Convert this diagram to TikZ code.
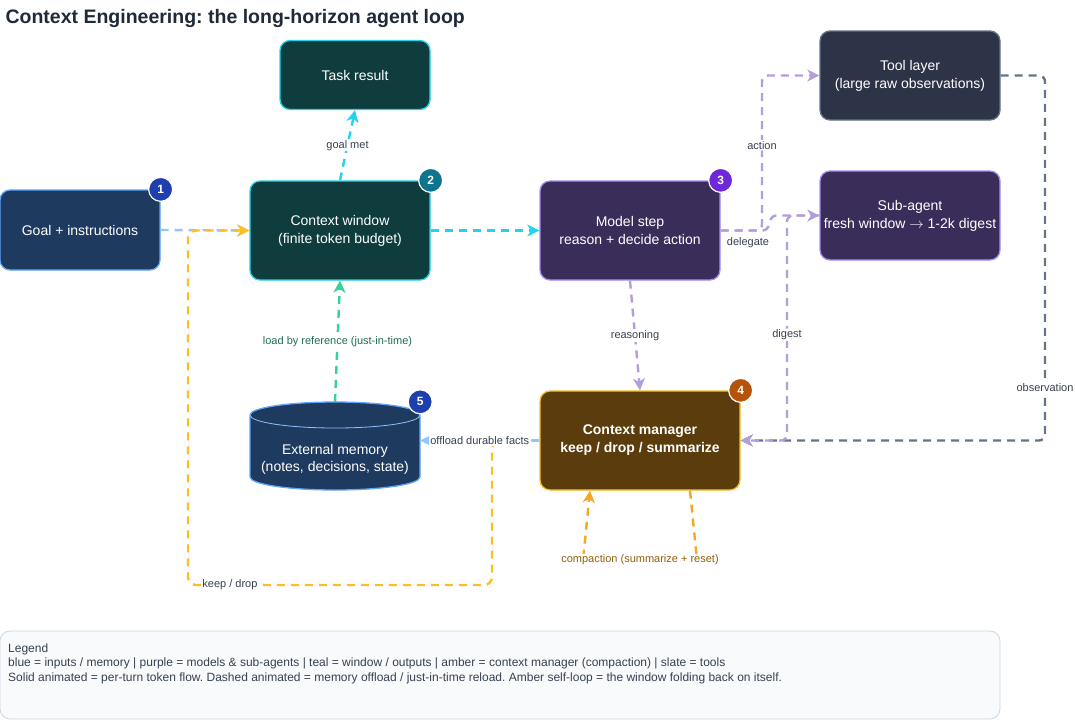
\documentclass[tikz,border=0pt]{standalone}
\usepackage{fontspec}
\setmainfont{Liberation Sans}
\usetikzlibrary{arrows.meta,calc}
\frenchspacing

\definecolor{titlegray}{HTML}{1F2937}
\definecolor{labgray}{HTML}{374151}
\definecolor{bluefill}{HTML}{1E3A5F}
\definecolor{blueline}{HTML}{60A5FA}
\definecolor{blueedge}{HTML}{93C5FD}
\definecolor{badgeblue}{HTML}{1E40AF}
\definecolor{tealfill}{HTML}{0F3D3E}
\definecolor{tealline}{HTML}{22D3EE}
\definecolor{badgeteal}{HTML}{0E7490}
\definecolor{purpfill}{HTML}{3B2D5A}
\definecolor{purpline}{HTML}{A78BFA}
\definecolor{purpedge}{HTML}{B39DDB}
\definecolor{badgepurp}{HTML}{6D28D9}
\definecolor{slatefill}{HTML}{2E3448}
\definecolor{slateline}{HTML}{64748B}
\definecolor{ambfill}{HTML}{5B3D0D}
\definecolor{ambline}{HTML}{FBBF24}
\definecolor{ambdark}{HTML}{F5A623}
\definecolor{badgeamb}{HTML}{B45309}
\definecolor{greenedge}{HTML}{34D399}
\definecolor{greentext}{HTML}{1F6F50}
\definecolor{ambtext}{HTML}{92600A}
\definecolor{legfill}{HTML}{F8FAFC}
\definecolor{legline}{HTML}{CBD5E1}

\begin{document}
\begin{tikzpicture}[x=1pt,y=-1pt,
  box/.style={draw,rounded corners=10pt,line width=1.3pt,text=white,align=center,
    font=\fontsize{14}{18}\selectfont,inner sep=0pt},
  badge/.style={circle,draw=white,line width=1.2pt,text=white,minimum size=24pt,
    inner sep=0pt,font=\fontsize{12}{12}\selectfont\bfseries},
  flow/.style={line width=2.4pt,dash pattern=on 8pt off 6pt,
    -{Stealth[length=12pt,width=12pt,inset=3.5pt]}},
  lbl/.style={fill=white,inner sep=1pt,text=labgray,font=\fontsize{11}{13}\selectfont}]
\useasboundingbox (0,0) rectangle (1075,721);

\node[anchor=west,text=titlegray,font=\fontsize{19.5}{22}\selectfont\bfseries] (title)
  at (2,18) {Context Engineering: the long-horizon agent loop};

% boxes
\node[box,fill=bluefill,draw=blueline,minimum width=160pt,minimum height=80pt] (goal)
  at (80,230) {Goal + instructions};
\node[box,fill=tealfill,draw=tealline,minimum width=180pt,minimum height=99pt] (window)
  at (340,230.5) {Context window\\(finite token budget)};
\node[box,fill=tealfill,draw=tealline,minimum width=150pt,minimum height=69pt] (result)
  at (355,75) {Task result};
\node[box,fill=purpfill,draw=purpline,minimum width=180pt,minimum height=99pt] (model)
  at (630,230.5) {Model step\\reason + decide action};
\node[box,fill=slatefill,draw=slateline,minimum width=180pt,minimum height=89pt] (tool)
  at (910,75.5) {Tool layer\\(large raw observations)};
\node[box,fill=purpfill,draw=purpline,minimum width=180pt,minimum height=89pt] (sub)
  at (910,215.5) {Sub-agent\\fresh window $\rightarrow$ 1-2k digest};
\node[box,fill=ambfill,draw=ambline,minimum width=200pt,minimum height=99pt,
  font=\fontsize{14}{18}\selectfont\bfseries] (manager)
  at (640,440.5) {Context manager\\keep / drop / summarize};

% cylinder
\path[draw=blueline,fill=bluefill,line width=1.3pt] (250,415) -- (250,477)
  arc[start angle=180,end angle=360,x radius=85pt,y radius=13pt] -- (420,415)
  arc[start angle=0,end angle=180,x radius=85pt,y radius=13pt] -- cycle;
\draw[blueline!70!white,line width=0.8pt] (250,415)
  arc[start angle=180,end angle=360,x radius=85pt,y radius=13pt];
\node[minimum width=170pt,minimum height=88pt,inner sep=0pt] (memory) at (335,446) {};
\node[text=white,align=center,font=\fontsize{14}{17}\selectfont] (memtext)
  at (335,459) {External memory\\(notes, decisions, state)};

% badges
\node[badge,fill=badgeblue] (b1) at (goal.north east) {1};
\node[badge,fill=badgeteal] (b2) at (window.north east) {2};
\node[badge,fill=badgepurp] (b3) at (model.north east) {3};
\node[badge,fill=badgeamb] (b4) at (manager.north east) {4};
\node[badge,fill=badgeblue] (b5) at (memory.north east) {5};

% flows
\draw[flow,blueedge] (goal.east) -- (window.west);
\draw[flow,ambline,rounded corners=8pt] (manager.west) -- (492,440.5) -- (492,585)
  -- node[lbl,pos=0.862] (keeplbl) {keep / drop} (188,585) -- (188,230.5) -- (window.west);
\draw[flow,tealline] (window.east) -- (model.west);
\draw[flow,tealline] (window.north) -- node[lbl] (metlbl) {goal met} (result.south);
\draw[flow,greenedge] (memory.north) -- node[lbl,text=greentext] (loadlbl)
  {load by reference (just-in-time)} (window.south);
\draw[flow,purpedge] (model.south) -- node[lbl] (reaslbl) {reasoning} (manager.north);
\draw[flow,purpedge,rounded corners=6pt] (model.east) -- (762,230.5)
  -- node[lbl,pos=0.55] (actlbl) {action} (762,75.5) -- (tool.west);
\draw[flow,purpedge,rounded corners=4pt] (model.east) -- (767,230.5) -- (772,215.5)
  -- (sub.west);
\node[lbl] (dellbl) at (748,243) {delegate};
\draw[flow,slateline,rounded corners=6pt] (tool.east) -- (1045,75.5)
  -- node[lbl,pos=0.856] (obslbl) {observation} (1045,440.5) -- (manager.east);
\draw[flow,purpedge,rounded corners=6pt] (sub.west) -- (787,215.5)
  -- node[lbl,pos=0.53] (diglbl) {digest} (787,440.5) -- (manager.east);
\draw[flow,blueedge] (manager.west) -- node[lbl] (offlbl) {offload durable facts}
  (manager.west -| memory.east);
\draw[flow,ambdark,rounded corners=4pt] ($(manager.south)+(50,0)$) -- (697,560)
  -- node[lbl,text=ambtext] (complbl) {compaction (summarize + reset)} (583,560)
  -- ($(manager.south)+(-50,0)$);

% legend
\node[draw=legline,fill=legfill,rounded corners=10pt,line width=0.8pt,
  minimum width=1000pt,minimum height=88pt] (legend) at (500,675) {};
\node[anchor=west,inner sep=0pt,text=labgray,font=\fontsize{12}{14}\selectfont] (leg1)
  at (8,649) {Legend};
\node[anchor=west,inner sep=0pt,text=labgray,font=\fontsize{12}{14}\selectfont] (leg2)
  at (8,663.5) {blue = inputs / memory | purple = models \& sub-agents | teal = window / outputs | amber = context manager (compaction) | slate = tools};
\node[anchor=west,inner sep=0pt,text=labgray,font=\fontsize{12}{14}\selectfont] (leg3)
  at (8,678) {Solid animated = per-turn token flow. Dashed animated = memory offload / just-in-time reload. Amber self-loop = the window folding back on itself.};
\end{tikzpicture}
\end{document}
